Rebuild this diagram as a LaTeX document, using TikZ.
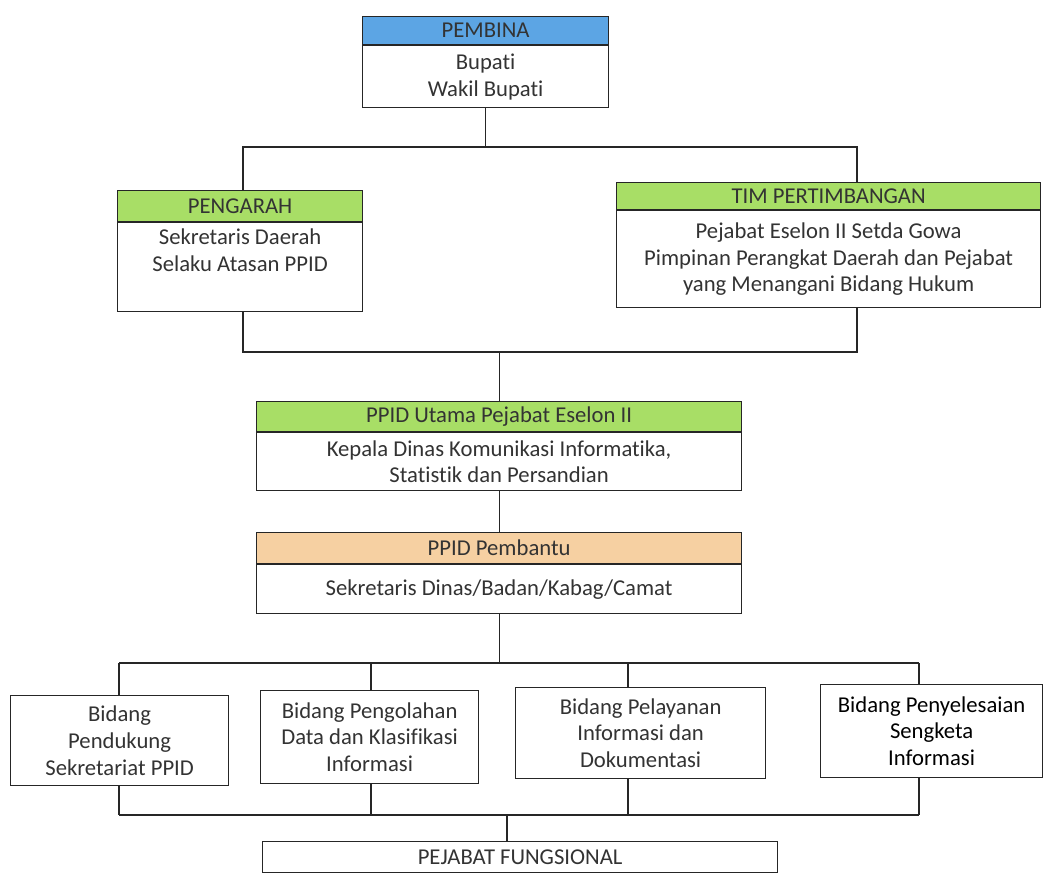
\documentclass[tikz,border=0pt]{standalone}
\usepackage{fontspec}
\setmainfont[Ligatures=NoCommon]{Carlito}
\usepackage{tikz}
\newcommand*{\busTop}{147}
\newcommand*{\busMid}{352}
\newcommand*{\busLow}{663}
\newcommand*{\busEnd}{815}
\usetikzlibrary{positioning}
\usetikzlibrary{calc}
\definecolor{headBlue}{RGB}{92,165,228}
\definecolor{headGreen}{RGB}{168,222,102}
\definecolor{headTan}{RGB}{246,208,162}
\tikzset{orgstyle/.style={
    x=0.75pt,% one unit is one pixel of the scan
    y=-0.75pt,% y runs downwards as in the scan
    line width=0.9pt,
    draw=black!85,
    every node/.style={% text of all boxes
      font=\fontsize{17}{20}\selectfont,
      text=black!80,
      align=center,
      inner sep=0pt
    },
    head/.style={% coloured title bar
      draw=black!85,
      line width=0.9pt,
      anchor=north west
    },
    body/.style={% white box below a title bar
      draw=black!85,
      line width=0.9pt,
      fill=white,
      anchor=north
    },
    unit/.style={% box of the lower row
      draw=black!85,
      line width=0.9pt,
      fill=white,
      anchor=north west
    }
  }
}

\begin{document}
\begin{tikzpicture}[orgstyle]
    \useasboundingbox (0,0) rectangle (1046,872);
    % pembina
    \node [head, fill=headBlue, minimum width=184.5pt, minimum height=21pt] (pembinaH) at (362,16) {PEMBINA};
    \node [body, minimum width=184.5pt, minimum height=46.5pt] (pembina) at (pembinaH.south) {Bupati\\Wakil Bupati};
    % pengarah and tim pertimbangan
    \node [head, fill=headGreen, minimum width=183.75pt, minimum height=23.25pt] (pengarahH) at (117,190) {PENGARAH};
    \node [body, minimum width=183.75pt, minimum height=66.75pt, text depth=26pt] (pengarah) at (pengarahH.south) {Sekretaris Daerah\\Selaku Atasan PPID};
    \node [head, fill=headGreen, minimum width=318pt, minimum height=20.25pt] (timH) at (616,182) {TIM PERTIMBANGAN};
    \node [body, minimum width=318pt, minimum height=72.75pt] (tim) at (timH.south) {Pejabat Eselon II Setda Gowa\\Pimpinan Perangkat Daerah dan Pejabat\\yang Menangani Bidang Hukum};
    % ppid utama and pembantu
    \node [head, fill=headGreen, minimum width=363.75pt, minimum height=22.5pt] (utamaH) at (256,401) {PPID Utama Pejabat Eselon II};
    \node [body, minimum width=363.75pt, minimum height=43.5pt] (utama) at (utamaH.south) {Kepala Dinas Komunikasi Informatika,\\Statistik dan Persandian};
    \node [head, fill=headTan, minimum width=363.75pt, minimum height=23.25pt] (pembantuH) at (256,532) {PPID Pembantu};
    \node [body, minimum width=363.75pt, minimum height=36.75pt] (pembantu) at (pembantuH.south) {Sekretaris Dinas/Badan/Kabag/Camat};
    % bidang
    \node [unit, minimum width=163.5pt, minimum height=67.5pt] (bidSekretariat) at (10,695) {Bidang\\Pendukung\\Sekretariat PPID};
    \node [unit, minimum width=163.5pt, minimum height=69.75pt] (bidPengolahan) at (260,690) {Bidang Pengolahan\\Data dan Klasifikasi\\Informasi};
    \node [unit, minimum width=187.5pt, minimum height=68.25pt] (bidPelayanan) at (515,687) {Bidang Pelayanan\\Informasi dan\\Dokumentasi};
    \node [unit, minimum width=166.5pt, minimum height=69.75pt, text=black] (bidSengketa) at (820,684) {Bidang Penyelesaian\\Sengketa\\Informasi};
    \node [unit, minimum width=386.25pt, minimum height=23pt] (fungsional) at (262,841) {PEJABAT FUNGSIONAL};
    % connectors
    \coordinate (topL) at (243,\busTop);
    \coordinate (topR) at (857,\busTop);
    \draw (pembina.south) -- (pembina.south |- topL);
    \draw (topL |- pengarahH.north) -- (topL) -- (topR) -- (topR |- timH.north);
    \coordinate (midL) at (243,\busMid);
    \coordinate (midR) at (857,\busMid);
    \draw (midL |- pengarah.south) -- (midL) -- (midR) -- (midR |- tim.south);
    \draw (utamaH.north) -- (utamaH.north |- midL);
    \draw (utama.south) -- (pembantuH.north);
    \coordinate (lowL) at (119,\busLow);
    \coordinate (lowR) at (919,\busLow);
    \draw (pembantu.south) -- (pembantu.south |- lowL);
    \draw (lowL) -- (lowR);
    \coordinate (endL) at (119,\busEnd);
    \coordinate (endR) at (919,\busEnd);
    \draw (endL) -- (endR);
    \foreach \b/\x in {bidSekretariat/119,bidPengolahan/371,bidPelayanan/628,bidSengketa/919} {
        \draw (\x,\busLow) -- (\x,\busLow |- \b.north);
        \draw (\x,\busEnd |- \b.south) -- (\x,\busEnd);
    }
    \draw (507,\busEnd) -- (507,\busEnd |- fungsional.north);
\end{tikzpicture}
\end{document}
